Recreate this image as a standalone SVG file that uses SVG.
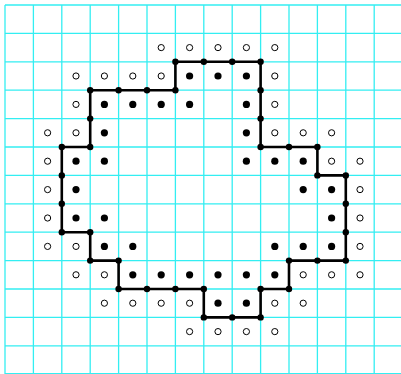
<svg xmlns="http://www.w3.org/2000/svg" xmlns:xlink="http://www.w3.org/1999/xlink" width="401" height="374" viewBox="0 0 401 374">
<style>
.grid line{stroke:#33eef2;stroke-width:1.3}
.edge{fill:none;stroke:#000;stroke-width:2.6;stroke-linejoin:miter}
.vtx{fill:#000}
.in{fill:#000}
.out{fill:#fff;stroke:#000;stroke-width:1}
</style>
<defs>
<circle id="v" r="3.2" class="vtx"/>
<circle id="f" r="3.6" class="in"/>
<circle id="o" r="3.1" class="out"/>
</defs>
<rect width="401" height="374" fill="#fff"/>
<g id="grid" class="grid">
<line x1="5" y1="5" x2="5" y2="374"/>
<line x1="33.4" y1="5" x2="33.4" y2="374"/>
<line x1="61.8" y1="5" x2="61.8" y2="374"/>
<line x1="90.2" y1="5" x2="90.2" y2="374"/>
<line x1="118.6" y1="5" x2="118.6" y2="374"/>
<line x1="147" y1="5" x2="147" y2="374"/>
<line x1="175.4" y1="5" x2="175.4" y2="374"/>
<line x1="203.8" y1="5" x2="203.8" y2="374"/>
<line x1="232.2" y1="5" x2="232.2" y2="374"/>
<line x1="260.6" y1="5" x2="260.6" y2="374"/>
<line x1="289" y1="5" x2="289" y2="374"/>
<line x1="317.4" y1="5" x2="317.4" y2="374"/>
<line x1="345.8" y1="5" x2="345.8" y2="374"/>
<line x1="374.2" y1="5" x2="374.2" y2="374"/>
<line x1="5" y1="5" x2="401" y2="5"/>
<line x1="5" y1="33.4" x2="401" y2="33.4"/>
<line x1="5" y1="61.8" x2="401" y2="61.8"/>
<line x1="5" y1="90.2" x2="401" y2="90.2"/>
<line x1="5" y1="118.6" x2="401" y2="118.6"/>
<line x1="5" y1="147" x2="401" y2="147"/>
<line x1="5" y1="175.4" x2="401" y2="175.4"/>
<line x1="5" y1="203.8" x2="401" y2="203.8"/>
<line x1="5" y1="232.2" x2="401" y2="232.2"/>
<line x1="5" y1="260.6" x2="401" y2="260.6"/>
<line x1="5" y1="289" x2="401" y2="289"/>
<line x1="5" y1="317.4" x2="401" y2="317.4"/>
<line x1="5" y1="345.8" x2="401" y2="345.8"/>
<line x1="5" y1="373.6" x2="401" y2="373.6"/>
</g>
<g id="connectors">
<path class="edge" d="M175.4 61.8H260.6V147H317.4V175.4H345.8V260.6H289V289H260.6V317.4H203.8V289H118.6V260.6H90.2V232.2H61.8V147H90.2V90.2H175.4Z"/>
</g>
<g id="contour-vertices">
<use xlink:href="#v" x="175.4" y="61.8"/><use xlink:href="#v" x="203.8" y="61.8"/><use xlink:href="#v" x="232.2" y="61.8"/><use xlink:href="#v" x="260.6" y="61.8"/>
<use xlink:href="#v" x="260.6" y="90.2"/><use xlink:href="#v" x="260.6" y="118.6"/><use xlink:href="#v" x="260.6" y="147"/>
<use xlink:href="#v" x="289" y="147"/><use xlink:href="#v" x="317.4" y="147"/><use xlink:href="#v" x="317.4" y="175.4"/>
<use xlink:href="#v" x="345.8" y="175.4"/><use xlink:href="#v" x="345.8" y="203.8"/><use xlink:href="#v" x="345.8" y="232.2"/><use xlink:href="#v" x="345.8" y="260.6"/>
<use xlink:href="#v" x="317.4" y="260.6"/><use xlink:href="#v" x="289" y="260.6"/><use xlink:href="#v" x="289" y="289"/>
<use xlink:href="#v" x="260.6" y="289"/><use xlink:href="#v" x="260.6" y="317.4"/><use xlink:href="#v" x="232.2" y="317.4"/><use xlink:href="#v" x="203.8" y="317.4"/>
<use xlink:href="#v" x="203.8" y="289"/><use xlink:href="#v" x="175.4" y="289"/><use xlink:href="#v" x="147" y="289"/><use xlink:href="#v" x="118.6" y="289"/>
<use xlink:href="#v" x="118.6" y="260.6"/><use xlink:href="#v" x="90.2" y="260.6"/><use xlink:href="#v" x="90.2" y="232.2"/><use xlink:href="#v" x="61.8" y="232.2"/>
<use xlink:href="#v" x="61.8" y="203.8"/><use xlink:href="#v" x="61.8" y="175.4"/><use xlink:href="#v" x="61.8" y="147"/><use xlink:href="#v" x="90.2" y="147"/>
<use xlink:href="#v" x="90.2" y="118.6"/><use xlink:href="#v" x="90.2" y="90.2"/><use xlink:href="#v" x="118.6" y="90.2"/><use xlink:href="#v" x="147" y="90.2"/><use xlink:href="#v" x="175.4" y="90.2"/>
</g>
<g id="inner-pixels">
<use xlink:href="#f" x="189.6" y="76"/><use xlink:href="#f" x="218" y="76"/><use xlink:href="#f" x="246.4" y="76"/>
<use xlink:href="#f" x="104.4" y="104.4"/><use xlink:href="#f" x="132.8" y="104.4"/><use xlink:href="#f" x="161.2" y="104.4"/><use xlink:href="#f" x="189.6" y="104.4"/><use xlink:href="#f" x="246.4" y="104.4"/>
<use xlink:href="#f" x="104.4" y="132.8"/><use xlink:href="#f" x="246.4" y="132.8"/>
<use xlink:href="#f" x="76" y="161.2"/><use xlink:href="#f" x="104.4" y="161.2"/><use xlink:href="#f" x="246.4" y="161.2"/><use xlink:href="#f" x="274.8" y="161.2"/><use xlink:href="#f" x="303.2" y="161.2"/>
<use xlink:href="#f" x="76" y="189.6"/><use xlink:href="#f" x="303.2" y="189.6"/><use xlink:href="#f" x="331.6" y="189.6"/>
<use xlink:href="#f" x="76" y="218"/><use xlink:href="#f" x="104.4" y="218"/><use xlink:href="#f" x="331.6" y="218"/>
<use xlink:href="#f" x="104.4" y="246.4"/><use xlink:href="#f" x="132.8" y="246.4"/><use xlink:href="#f" x="274.8" y="246.4"/><use xlink:href="#f" x="303.2" y="246.4"/><use xlink:href="#f" x="331.6" y="246.4"/>
<use xlink:href="#f" x="132.8" y="274.8"/><use xlink:href="#f" x="161.2" y="274.8"/><use xlink:href="#f" x="189.6" y="274.8"/><use xlink:href="#f" x="218" y="274.8"/><use xlink:href="#f" x="246.4" y="274.8"/><use xlink:href="#f" x="274.8" y="274.8"/>
<use xlink:href="#f" x="218" y="303.2"/><use xlink:href="#f" x="246.4" y="303.2"/>
</g>
<g id="outer-pixels">
<use xlink:href="#o" x="161.2" y="47.6"/><use xlink:href="#o" x="189.6" y="47.6"/><use xlink:href="#o" x="218" y="47.6"/><use xlink:href="#o" x="246.4" y="47.6"/><use xlink:href="#o" x="274.8" y="47.6"/>
<use xlink:href="#o" x="76" y="76"/><use xlink:href="#o" x="104.4" y="76"/><use xlink:href="#o" x="132.8" y="76"/><use xlink:href="#o" x="161.2" y="76"/><use xlink:href="#o" x="274.8" y="76"/>
<use xlink:href="#o" x="76" y="104.4"/><use xlink:href="#o" x="274.8" y="104.4"/>
<use xlink:href="#o" x="47.6" y="132.8"/><use xlink:href="#o" x="76" y="132.8"/><use xlink:href="#o" x="274.8" y="132.8"/><use xlink:href="#o" x="303.2" y="132.8"/><use xlink:href="#o" x="331.6" y="132.8"/>
<use xlink:href="#o" x="47.6" y="161.2"/><use xlink:href="#o" x="331.6" y="161.2"/><use xlink:href="#o" x="360" y="161.2"/>
<use xlink:href="#o" x="47.6" y="189.6"/><use xlink:href="#o" x="360" y="189.6"/>
<use xlink:href="#o" x="47.6" y="218"/><use xlink:href="#o" x="360" y="218"/>
<use xlink:href="#o" x="47.6" y="246.4"/><use xlink:href="#o" x="76" y="246.4"/><use xlink:href="#o" x="360" y="246.4"/>
<use xlink:href="#o" x="76" y="274.8"/><use xlink:href="#o" x="104.4" y="274.8"/><use xlink:href="#o" x="303.2" y="274.8"/><use xlink:href="#o" x="331.6" y="274.8"/><use xlink:href="#o" x="360" y="274.8"/>
<use xlink:href="#o" x="104.4" y="303.2"/><use xlink:href="#o" x="132.8" y="303.2"/><use xlink:href="#o" x="161.2" y="303.2"/><use xlink:href="#o" x="189.6" y="303.2"/><use xlink:href="#o" x="274.8" y="303.2"/><use xlink:href="#o" x="303.2" y="303.2"/>
<use xlink:href="#o" x="189.6" y="331.6"/><use xlink:href="#o" x="218" y="331.6"/><use xlink:href="#o" x="246.4" y="331.6"/><use xlink:href="#o" x="274.8" y="331.6"/>
</g>
</svg>
